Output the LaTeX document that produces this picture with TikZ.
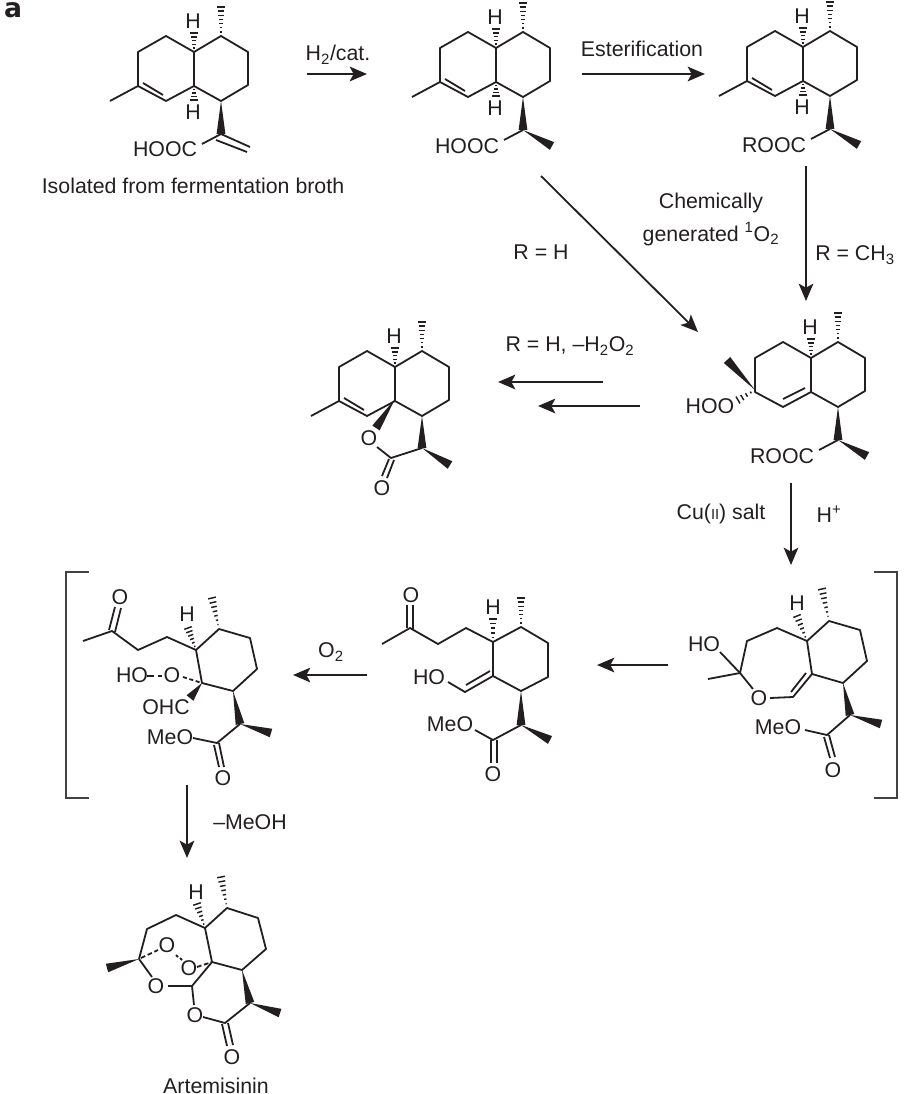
\documentclass[tikz,border=0pt]{standalone}
\usepackage{fontspec}
\setmainfont{Liberation Sans}
\newfontfamily\panelfont{DejaVu Sans}
\usetikzlibrary{calc, arrows.meta}
\definecolor{inkblack}{HTML}{231F20}
\tikzset{
  bond/.style={line width=1.35pt, line join=round, draw=inkblack},
  rxn/.style={line width=1.35pt, draw=inkblack, -{Stealth[length=13pt, width=11pt, inset=3pt]}},
  lbl/.style={inner sep=0pt, text=inkblack, font=\fontsize{16}{19}\selectfont},
  bracket/.style={line width=1.35pt, draw=inkblack!85}
}
\newcommand{\wedgebond}[2]{\fill[inkblack] (#1) -- ($(#2)!3.3pt!90:(#1)$) -- ($(#2)!3.3pt!-90:(#1)$) -- cycle;}
\newcommand{\hashbond}[3]{\foreach \i in {1,...,#3} {
    \pgfmathsetmacro{\t}{\i/#3}
    \draw[inkblack, line width=1.1pt] ($(#1)!\t!(#2) + (#1)!{\t*3pt}!90:(#2) - (#1)$) -- ($(#1)!\t!(#2) + (#1)!{\t*3pt}!-90:(#2) - (#1)$);
  }}
\newcommand{\decalinring}{
  \draw[bond] (194,52) -- (166,36) -- (138,52) -- (138,86) -- (166,101) -- (194,86) -- (221,101) -- (248,85) -- (248,52) -- (221,36) -- cycle;
  \draw[bond] (194,52) -- (194,86);
  \hashbond{221,36}{221,7}{7}
  \node[lbl] at (193,21) {H};
  \hashbond{194,52}{194,33}{5}
}
\newcommand{\acidchain}[2]{
  \wedgebond{221,101}{221,134}
  \wedgebond{221,134}{250,150}
  \draw[bond] (221,134) -- (202,144);
  \node[lbl] (#1) at (165,150) {#2};
}
\begin{document}
\begin{tikzpicture}[x=0.75pt, y=-0.75pt]
  \useasboundingbox (0,0) rectangle (914,1094);
  \node[inner sep=0pt, text=inkblack, font=\fontsize{20}{20}\selectfont\panelfont\bfseries] (panel) at (13,10) {a};

  \decalinring
  \draw[bond] (138,86) -- (110,101);
  \draw[bond] (143,83) -- (163,95);
  \hashbond{194,86}{194,100}{4}
  \node[lbl] (hone) at (193,112) {H};
  \wedgebond{221,101}{221,134}
  \draw[bond] (221,134) -- (202,144);
  \draw[bond] (221,134) -- (250,147);
  \draw[bond] (216,140) -- (247,152);
  \node[lbl] (hoocone) at (165,149) {HOOC};
  \node[lbl] (source) at (193,186) {Isolated from fermentation broth};

  \begin{scope}[shift={(302,-4)}]
    \decalinring
    \draw[bond] (138,86) -- (110,101);
    \draw[bond] (143,83) -- (163,95);
    \hashbond{194,86}{194,100}{4}
    \node[lbl] (htwo) at (193,112) {H};
    \acidchain{hooctwo}{HOOC}
  \end{scope}

  \begin{scope}[shift={(609,-5)}]
    \decalinring
    \draw[bond] (138,86) -- (110,101);
    \draw[bond] (143,83) -- (163,95);
    \hashbond{194,86}{194,100}{4}
    \node[lbl] (hthree) at (193,112) {H};
    \acidchain{roocthree}{ROOC}
  \end{scope}

  \begin{scope}[shift={(201,315)}]
    \decalinring
    \draw[bond] (138,86) -- (110,101);
    \draw[bond] (143,83) -- (163,95);
  \end{scope}
  \wedgebond{422,416}{422,448}
  \wedgebond{422,448}{450,465}
  \wedgebond{395,399}{376,428}
  \node[lbl] (olac) at (369,438) {O};
  \draw[bond] (377,447) -- (391,458) -- (422,448);
  \draw[bond] (389,459) -- (382,476);
  \draw[bond] (394,460) -- (387,478);
  \node[lbl] (oketo) at (382,488) {O};

  \begin{scope}[shift={(617,306)}]
    \decalinring
    \draw[bond] (166,93) -- (188,82);
    \acidchain{rooc}{ROOC}
    \wedgebond{138,84}{110,54}
    \hashbond{138,84}{121,94}{4}
  \end{scope}
  \node[lbl] (hoo) at (710,406) {HOO};

  \draw[bond] (807,641) -- (777,628) -- (747,641) -- (740,673) -- (708,679);
  \draw[bond] (740,673) -- (720,652);
  \node[lbl] (hoa) at (704,644) {HO};
  \draw[bond] (740,673) -- (753,689);
  \node[lbl] (oxy) at (759,698) {O};
  \draw[bond] (770,698) -- (793,697) -- (812,674) -- (807,641);
  \draw[bond] (791,692) -- (806,673);
  \draw[bond] (812,674) -- (843,683) -- (867,661) -- (860,630) -- (829,621) -- (807,641);
  \hashbond{829,621}{822,589}{7}
  \node[lbl] (hsix) at (797,603) {H};
  \hashbond{807,641}{797,616}{6}
  \wedgebond{843,683}{850,715}
  \wedgebond{850,715}{881,724}
  \draw[bond] (850,715) -- (827,735) -- (805,730);
  \node[lbl] (meoa) at (778,727) {MeO};
  \draw[bond] (824,737) -- (830,758);
  \draw[bond] (829,735) -- (835,757);
  \node[lbl] (oa) at (833,770) {O};

  \draw[bond] (493,642) -- (521,627) -- (548,643) -- (548,677) -- (521,691) -- (493,676) -- cycle;
  \hashbond{521,627}{521,598}{7}
  \node[lbl] (hseven) at (493,607) {H};
  \hashbond{493,642}{493,619}{5}
  \draw[bond] (493,642) -- (466,628) -- (438,644) -- (410,628) -- (382,644);
  \draw[bond] (407,628) -- (407,605);
  \draw[bond] (413,630) -- (413,605);
  \node[lbl] (ob) at (411,595) {O};
  \draw[bond] (493,676) -- (465,692) -- (448,682);
  \draw[bond] (490,671) -- (466,685);
  \node[lbl] (hob) at (429,677) {HO};
  \wedgebond{521,691}{521,725}
  \wedgebond{521,725}{550,740}
  \draw[bond] (521,725) -- (493,740) -- (475,730);
  \node[lbl] (meob) at (450,724) {MeO};
  \draw[bond] (491,740) -- (491,763);
  \draw[bond] (497,740) -- (497,763);
  \node[lbl] (oc) at (493,774) {O};

  \draw[bond] (196,650) -- (219,629) -- (250,638) -- (257,669) -- (233,691) -- (202,683) -- cycle;
  \hashbond{219,629}{212,598}{7}
  \node[lbl] (height) at (187,614) {H};
  \hashbond{196,650}{188,628}{6}
  \draw[bond] (196,650) -- (167,637) -- (138,650) -- (112,631) -- (83,641);
  \draw[bond] (109,630) -- (115,607);
  \draw[bond] (115,632) -- (121,608);
  \node[lbl] (od) at (120,597) {O};
  \node[lbl] (hoc) at (132,675) {HO};
  \node[lbl] (oe) at (172,675) {O};
  \draw[bond, dash pattern=on 5pt off 3pt] (147,676) -- (162,676);
  \draw[bond, dash pattern=on 3pt off 2pt] (183,677) -- (202,683);
  \wedgebond{202,683}{190,698}
  \node[lbl] (ohc) at (166,707) {OHC};
  \wedgebond{233,691}{240,724}
  \wedgebond{240,724}{271,733}
  \draw[bond] (240,724) -- (217,743) -- (193,738);
  \node[lbl] (meoc) at (170,737) {MeO};
  \draw[bond] (214,745) -- (219,767);
  \draw[bond] (219,743) -- (224,767);
  \node[lbl] (of) at (223,778) {O};

  \draw[bond] (212,962) -- (205,928) -- (176,915) -- (147,929) -- (139,959);
  \draw[bond] (205,928) -- (227,908) -- (258,918) -- (266,949) -- (242,970) -- (212,962);
  \wedgebond{139,959}{107,968}
  \hashbond{227,908}{221,877}{7}
  \node[lbl] (hart) at (196,892) {H};
  \hashbond{205,928}{197,904}{6}
  \draw[bond, dash pattern=on 3.5pt off 2pt] (141,958) -- (158,950);
  \node[lbl] (oone) at (167,945) {O};
  \draw[bond] (176,955) -- (178,957);
  \draw[bond] (180,958) -- (182,960);
  \node[lbl] (otwo) at (189,968) {O};
  \draw[bond, dash pattern=on 3.5pt off 2pt] (197,967) -- (212,962);
  \draw[bond] (212,962) -- (192,986) -- (168,986);
  \node[lbl] (othree) at (156,986) {O};
  \draw[bond] (139,959) -- (152,977);
  \draw[bond] (192,986) -- (194,1005);
  \node[lbl] (ofour) at (195,1015) {O};
  \draw[bond] (203,1017) -- (225,1023) -- (250,1003);
  \wedgebond{242,970}{250,1003}
  \wedgebond{250,1003}{280,1013}
  \draw[bond] (222,1024) -- (227,1046);
  \draw[bond] (228,1023) -- (233,1045);
  \node[lbl] (ofive) at (232,1057) {O};
  \node[lbl] (artname) at (216,1086) {Artemisinin};

  \draw[bracket] (89,572) -- (66,572) -- (66,798) -- (89,798);
  \draw[bracket] (874,572) -- (897,572) -- (897,798) -- (874,798);

  \coordinate (h2from) at (307,74);
  \coordinate (h2to) at (367,74);
  \coordinate (esterfrom) at (582,74);
  \coordinate (esterto) at (705,74);
  \coordinate (rhfrom) at (541,176);
  \coordinate (rhto) at (698,332);
  \coordinate (chthreefrom) at (806,166);
  \coordinate (chthreeto) at (806,301);
  \coordinate (lacafrom) at (603,382);
  \coordinate (lacato) at (498,382);
  \coordinate (lacbfrom) at (640,406);
  \coordinate (lacbto) at (538,406);
  \coordinate (cufrom) at (791,483);
  \coordinate (cuto) at (791,565);
  \coordinate (openfrom) at (668,665);
  \coordinate (opento) at (597,665);
  \coordinate (oxfrom) at (367,675);
  \coordinate (oxto) at (293,675);
  \coordinate (meohfrom) at (187,785);
  \coordinate (meohto) at (187,858);
  \draw[rxn] (h2from) -- (h2to);
  \draw[rxn] (esterfrom) -- (esterto);
  \draw[rxn] (rhfrom) -- (rhto);
  \draw[rxn] (chthreefrom) -- (chthreeto);
  \draw[rxn] (lacafrom) -- (lacato);
  \draw[rxn] (lacbfrom) -- (lacbto);
  \draw[rxn] (cufrom) -- (cuto);
  \draw[rxn] (openfrom) -- (opento);
  \draw[rxn] (oxfrom) -- (oxto);
  \draw[rxn] (meohfrom) -- (meohto);

  \node[lbl] (hcat) at (338,55) {H\textsubscript{2}/cat.};
  \node[lbl] (ester) at (642,49) {Esterification};
  \node[lbl] (chem) at (711,203) {Chemically};
  \node[lbl] (gen) at (711,234) {generated \textsuperscript{1}O\textsubscript{2}};
  \node[lbl] (rh) at (541,252) {R = H};
  \node[lbl] (rch) at (855,255) {R = CH\textsubscript{3}};
  \node[lbl] (rhb) at (570,346) {R = H, –H\textsubscript{2}O\textsubscript{2}};
  \node[lbl] (cusalt) at (721,514) {Cu({\fontsize{11}{12}\selectfont II}) salt};
  \node[lbl] (hplus) at (829,514) {H\textsuperscript{+}};
  \node[lbl] (otwolab) at (331,652) {O\textsubscript{2}};
  \node[lbl] (meoh) at (250,822) {–MeOH};
\end{tikzpicture}
\end{document}
